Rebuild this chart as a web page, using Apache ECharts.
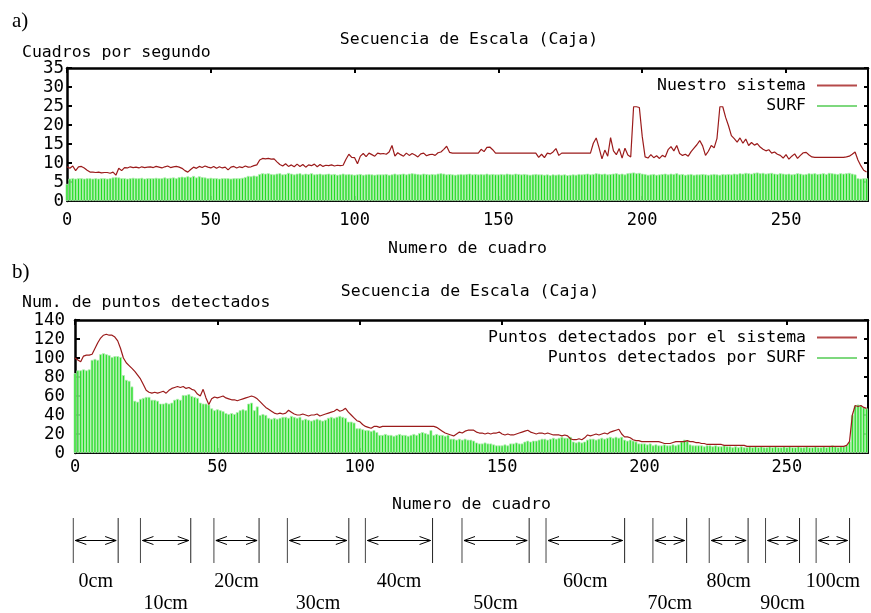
<!DOCTYPE html>
<html>
<head>
<meta charset="utf-8">
<script src="https://cdn.jsdelivr.net/npm/echarts@6/dist/echarts.min.js"></script>
<style>
html,body{margin:0;padding:0;background:#fff;}
#chart{width:871px;height:613px;}
</style>
</head>
<body>
<div id="chart"></div>
<script>
// ---------- DATA ----------
const chartTitle = 'Secuencia de Escala (Caja)';
const xAxisTitle = 'Numero de cuadro';
const topYTitle = 'Cuadros por segundo';
const bottomYTitle = 'Num. de puntos detectados';
const topSeriesNames = ['Nuestro sistema', 'SURF'];
const bottomSeriesNames = ['Puntos detectados por el sistema', 'Puntos detectados por SURF'];

// a) frames per second, frames 0..278
const fpsSistema = [
 9.0, 8.6, 9.2, 8.0, 9.0, 9.1, 8.7, 8.1, 7.6, 7.6,
 7.5, 7.6, 7.4, 7.5, 7.5, 7.3, 7.6, 6.8, 8.6, 8.0,
 8.8, 8.7, 9.0, 8.8, 8.9, 8.7, 9.0, 8.8, 8.9, 9.0,
 8.8, 9.1, 8.9, 8.7, 9.0, 9.2, 8.8, 9.0, 9.1, 8.9,
 8.6, 8.0, 7.6, 8.3, 8.9, 8.6, 9.1, 8.8, 9.2, 8.9,
 8.7, 9.1, 8.6, 9.0, 8.7, 8.9, 8.2, 8.9, 9.1, 8.7,
 9.0, 8.8, 9.2, 8.9, 9.0, 9.3, 9.5, 10.8, 11.2, 11.1,
 11.2, 11.0, 11.1, 10.3, 9.6, 9.2, 9.8, 9.1, 9.5, 9.0,
 9.7, 9.1, 9.6, 8.9, 9.5, 9.3, 9.7, 9.0, 9.6, 9.1,
 9.4, 9.3, 9.5, 9.2, 9.4, 9.3, 9.4, 11.0, 12.3, 11.5,
 11.4, 9.8, 11.8, 12.5, 11.7, 12.6, 12.2, 11.8, 12.6, 12.4,
 12.5, 12.3, 12.9, 14.6, 11.8, 12.7, 12.2, 11.8, 12.6, 12.0,
 12.5, 12.1, 11.6, 12.4, 12.6, 11.9, 12.2, 12.3, 12.0, 12.7,
 12.9, 13.6, 14.4, 12.8, 12.6, 12.6, 12.6, 12.6, 12.6, 12.6,
 12.6, 12.6, 12.6, 12.6, 13.6, 13.0, 14.1, 14.2, 13.5, 12.6,
 12.6, 12.6, 12.6, 12.6, 12.6, 12.6, 12.6, 12.6, 12.6, 12.6,
 12.6, 12.6, 12.6, 12.6, 11.5, 12.3, 11.4, 12.6, 12.4, 12.9,
 13.8, 12.0, 12.6, 12.6, 12.6, 12.6, 12.6, 12.6, 12.6, 12.6,
 12.6, 12.6, 12.6, 15.2, 16.6, 14.0, 11.1, 13.4, 11.8, 16.7,
 13.2, 12.2, 13.8, 11.3, 13.9, 12.1, 11.6, 24.8, 24.8, 24.6,
 17.0, 11.6, 11.3, 12.2, 11.4, 11.9, 11.2, 12.0, 11.6, 13.5,
 14.3, 13.2, 14.6, 12.5, 12.0, 12.3, 11.8, 13.0, 13.9, 14.8,
 15.9, 14.5, 12.0, 13.1, 14.6, 14.0, 16.5, 24.8, 24.8, 22.0,
 19.8, 17.2, 16.4, 15.5, 16.6, 15.2, 16.3, 14.6, 15.4, 14.7,
 15.1, 14.2, 13.6, 13.2, 13.5, 12.6, 12.9, 12.3, 12.0, 11.3,
 12.2, 11.0, 11.8, 12.4, 11.2, 12.0, 12.7, 12.8, 12.1, 11.6,
 11.5, 11.5, 11.5, 11.5, 11.5, 11.5, 11.5, 11.5, 11.5, 11.5,
 11.5, 11.6, 11.8, 12.3, 12.9, 10.8, 9.3, 8.1, 7.6
];
const fpsSurf = [
 4.5, 5.9, 6.0, 5.9, 6.0, 6.0, 5.9, 6.0, 6.0, 5.9,
 6.0, 5.9, 6.0, 6.0, 5.9, 6.0, 6.2, 6.3, 6.2, 6.0,
 6.0, 5.9, 6.0, 6.1, 6.0, 6.0, 6.1, 5.9, 6.0, 6.0,
 6.0, 6.1, 6.0, 6.0, 6.2, 6.0, 6.1, 6.2, 6.0, 6.3,
 6.4, 6.3, 6.5, 6.3, 6.6, 6.2, 6.5, 6.3, 6.2, 6.0,
 6.1, 6.0, 6.0, 5.9, 6.0, 6.0, 6.0, 5.9, 6.0, 6.0,
 6.0, 6.1, 6.3, 6.6, 6.5, 6.7, 6.6, 7.1, 7.3, 7.2,
 7.3, 7.1, 7.0, 7.2, 7.3, 7.0, 7.1, 7.4, 7.2, 7.0,
 7.2, 7.3, 7.0, 7.2, 7.1, 7.3, 7.0, 7.1, 7.2, 7.0,
 7.1, 7.2, 7.0, 7.1, 6.9, 7.0, 7.2, 7.0, 7.1, 7.0,
 6.9, 7.0, 7.1, 6.9, 7.0, 7.1, 7.0, 6.9, 7.0, 7.0,
 7.0, 7.1, 6.9, 7.0, 7.2, 7.0, 7.1, 7.2, 7.0, 7.2,
 7.3, 7.2, 7.1, 7.0, 7.2, 7.1, 7.0, 7.1, 7.0, 7.2,
 7.3, 7.2, 7.0, 7.1, 7.0, 6.9, 7.0, 7.1, 7.0, 7.1,
 7.2, 7.0, 7.1, 7.0, 7.1, 7.0, 7.2, 7.0, 7.1, 7.0,
 7.0, 7.1, 7.0, 7.2, 7.1, 7.0, 7.2, 7.1, 7.0, 7.1,
 7.0, 6.9, 7.0, 7.1, 7.0, 7.0, 6.9, 7.0, 6.8, 7.0,
 6.9, 7.0, 6.9, 7.0, 6.8, 6.9, 7.0, 6.9, 7.1, 7.0,
 7.1, 7.2, 7.0, 7.1, 7.3, 7.2, 7.1, 7.2, 7.0, 7.1,
 7.2, 7.3, 7.1, 7.2, 7.0, 7.3, 7.4, 7.5, 7.3, 7.4,
 7.2, 7.1, 6.9, 7.0, 7.1, 6.9, 7.0, 7.1, 7.2, 7.0,
 7.2, 7.1, 7.3, 7.0, 7.1, 6.9, 7.0, 7.1, 6.9, 7.0,
 7.0, 7.1, 7.0, 6.9, 7.0, 7.1, 7.0, 6.9, 7.1, 7.0,
 7.1, 7.0, 7.2, 7.1, 7.3, 7.2, 7.4, 7.3, 7.2, 7.4,
 7.5, 7.3, 7.4, 7.2, 7.3, 7.4, 7.2, 7.1, 7.3, 7.2,
 7.1, 7.2, 7.0, 7.1, 7.3, 7.2, 7.0, 7.1, 7.3, 7.2,
 7.3, 7.1, 7.2, 7.3, 7.1, 7.4, 7.3, 7.2, 7.1, 7.3,
 7.2, 7.3, 7.4, 7.2, 7.0, 6.0, 5.9, 6.0, 6.0
];

// b) detected points, frames 0..278
const ptsSistema = [
 100, 98, 96, 102, 103, 103, 104, 110, 116, 121,
 124, 125, 124, 124, 122, 118, 110, 100, 95, 92,
 89, 86, 82, 78, 72, 66, 64, 63, 64, 63,
 64, 65, 63, 66, 68, 69, 70, 69, 70, 68,
 69, 67, 66, 62, 60, 67, 58, 51, 57, 59,
 58, 59, 60, 58, 57, 56, 56, 55, 56, 57,
 58, 59, 60, 59, 57, 54, 51, 48, 46, 44,
 42, 41, 42, 41, 42, 45, 43, 41, 40, 40,
 41, 40, 39, 40, 40, 41, 39, 40, 41, 42,
 43, 44, 46, 44, 45, 47, 43, 40, 37, 34,
 33, 30, 28, 27, 26, 28, 28, 27, 28, 28,
 28, 28, 28, 28, 28, 28, 28, 28, 28, 28,
 28, 28, 28, 28, 28, 28, 28, 27, 25, 23,
 21, 20, 19, 18, 20, 22, 21, 23, 24, 24,
 24, 22, 21, 21, 20, 21, 20, 21, 21, 22,
 20, 19, 20, 19, 19, 20, 21, 22, 23, 24,
 22, 21, 20, 21, 21, 20, 21, 20, 19, 19,
 19, 18, 19, 18, 15, 14, 14, 15, 14, 16,
 19, 18, 19, 20, 19, 20, 21, 20, 22, 23,
 24, 25, 20, 17, 17, 16, 14, 13, 13, 12,
 12, 12, 12, 12, 12, 12, 11, 10, 10, 10,
 11, 12, 12, 12, 12, 13, 12, 12, 11, 11,
 10, 10, 9, 9, 9, 9, 9, 9, 8, 8,
 8, 8, 8, 8, 8, 8, 7, 7, 7, 7,
 7, 7, 7, 7, 7, 7, 7, 7, 7, 7,
 7, 7, 7, 7, 7, 7, 7, 7, 7, 7,
 7, 7, 7, 7, 7, 7, 7, 7, 7, 7,
 7, 8, 12, 40, 50, 49, 50, 48, 47
];
const ptsSurf = [
 84, 87, 87, 88, 87, 88, 98, 99, 98, 104,
 105, 104, 103, 101, 102, 102, 101, 82, 77, 76,
 70, 55, 54, 57, 58, 59, 59, 56, 56, 55,
 52, 52, 53, 52, 53, 56, 57, 56, 61, 61,
 62, 60, 59, 58, 53, 52, 52, 51, 47, 45,
 46, 45, 44, 42, 41, 42, 41, 43, 45, 46,
 45, 52, 53, 45, 49, 40, 41, 40, 37, 36,
 37, 36, 37, 38, 38, 37, 39, 38, 37, 38,
 35, 36, 35, 34, 35, 36, 35, 34, 35, 37,
 38, 37, 38, 39, 38, 37, 33, 33, 32, 26,
 26, 25, 24, 24, 23, 24, 22, 19, 19, 20,
 19, 19, 18, 19, 20, 19, 19, 18, 19, 20,
 19, 21, 22, 21, 20, 24, 19, 20, 19, 19,
 18, 19, 15, 15, 14, 15, 14, 15, 14, 14,
 13, 11, 10, 10, 11, 10, 10, 9, 8, 8,
 8, 9, 8, 10, 10, 11, 10, 10, 12, 13,
 12, 13, 13, 14, 15, 15, 14, 15, 16, 15,
 16, 17, 16, 16, 17, 12, 11, 12, 11, 12,
 14, 15, 15, 14, 15, 16, 15, 16, 17, 16,
 17, 16, 17, 14, 13, 14, 13, 12, 10, 10,
 10, 9, 10, 8, 9, 8, 8, 9, 8, 8,
 9, 8, 9, 12, 14, 13, 9, 8, 8, 8,
 8, 7, 8, 8, 7, 8, 7, 7, 8, 7,
 7, 6, 7, 6, 7, 6, 6, 7, 6, 7,
 6, 7, 6, 6, 7, 6, 7, 6, 6, 7,
 6, 7, 6, 6, 7, 6, 6, 7, 6, 6,
 7, 6, 6, 7, 6, 7, 8, 7, 6, 7,
 7, 8, 12, 40, 50, 51, 50, 48, 47
];

// distance segments below b): frame ranges
const distLabels = ['0cm','10cm','20cm','30cm','40cm','50cm','60cm','70cm','80cm','90cm','100cm'];
const distStart  = [-0.6, 22.9, 48.6, 74.3, 101.6, 135.4, 164.8, 202.2, 221.9, 241.6, 259.3];
const distEnd    = [15.1, 40.5, 64.4, 95.8, 125.1, 158.9, 192.3, 214.0, 235.5, 253.5, 271.0];

// axis ticks
const xMin = 0, xMax = 278.5, xStep = 50;
const topYMax = 35, topYStep = 5;
const botYMax = 140, botYStep = 20;

// ---------- STYLE ----------
const MONO = '"DejaVu Sans Mono", monospace';
const SERIF = '"Liberation Serif", "Times New Roman", serif';
const RED = '#9b1b1b';
const GREEN_FILL = '#22dd22';
const GREEN_EDGE = '#b2eeb2';

const toPairs = arr => arr.map((v, i) => [i, v]);
const xFmt = v => (v % xStep === 0 ? String(v) : '');

function xAxes(grid, labelMargin, nameGap) {
  return [
    {
      gridIndex: grid, type: 'value', min: xMin, max: xMax, interval: xStep, position: 'bottom',
      name: xAxisTitle, nameLocation: 'middle', nameGap: nameGap,
      nameTextStyle: { fontFamily: MONO, fontSize: 16.5, color: '#000' },
      axisLine: { onZero: false, lineStyle: { color: '#000', width: 2 } },
      axisTick: { inside: true, length: 5, lineStyle: { color: '#000', width: 2 } },
      axisLabel: { formatter: xFmt, margin: labelMargin, fontFamily: MONO, fontSize: 17, color: '#000' },
      splitLine: { show: false }
    },
    {
      gridIndex: grid, type: 'value', min: xMin, max: xMax, interval: xStep, position: 'top',
      axisLine: { onZero: false, lineStyle: { color: '#000', width: 2.5 } },
      axisTick: { inside: true, length: 5, lineStyle: { color: '#000', width: 2 } },
      axisLabel: { show: false }, splitLine: { show: false }
    }
  ];
}
function yAxes(grid, max, step, labelMargin) {
  return [
    {
      gridIndex: grid, type: 'value', min: 0, max: max, interval: step, position: 'left',
      axisLine: { show: true, onZero: false, lineStyle: { color: '#000', width: 2.5 } },
      axisTick: { show: true, inside: true, length: 5, lineStyle: { color: '#000', width: 2 } },
      axisLabel: { margin: labelMargin, fontFamily: MONO, fontSize: 17.5, color: '#000' },
      splitLine: { show: false }
    },
    {
      gridIndex: grid, type: 'value', min: 0, max: max, interval: step, position: 'right',
      axisLine: { show: true, onZero: false, lineStyle: { color: '#000', width: 2 } },
      axisTick: { show: true, inside: true, length: 4, lineStyle: { color: '#000', width: 2 } },
      axisLabel: { show: false }, splitLine: { show: false }
    }
  ];
}
function legendFor(names, top) {
  return {
    orient: 'vertical', align: 'right', right: 14, top: top, padding: 0,
    itemGap: 3.5, itemWidth: 40, itemHeight: 2, icon: 'rect',
    textStyle: { fontFamily: MONO, fontSize: 16.5, color: '#000', padding: [0, 6, 0, 0] },
    data: [
      { name: names[0], itemStyle: { color: '#b54a4a', borderWidth: 0 } },
      { name: names[1], itemStyle: { color: '#7ed87e', borderWidth: 0 } }
    ]
  };
}
function textEl(text, x, y, font, align) {
  return { type: 'text', x: x, y: y, style: { text: text, font: font, fill: '#000', align: align, verticalAlign: 'middle' } };
}

const chart = echarts.init(document.getElementById('chart'), null, { renderer: 'canvas' });

const option = {
  animation: false,
  backgroundColor: '#fff',
  grid: [
    { left: 67, top: 68, width: 805, height: 133 },
    { left: 75, top: 320, width: 797, height: 133 },
    { left: 75, top: 518, width: 797, height: 45 }
  ],
  xAxis: [
    ...xAxes(0, 11, 39),
    ...xAxes(1, 6, 43),
    { gridIndex: 2, type: 'value', min: xMin, max: xMax, show: false }
  ],
  yAxis: [
    ...yAxes(0, topYMax, topYStep, 3),
    ...yAxes(1, botYMax, botYStep, 10),
    { gridIndex: 2, type: 'value', min: 0, max: 1, show: false }
  ],
  legend: [ legendFor(topSeriesNames, 77), legendFor(bottomSeriesNames, 329) ],
  graphic: [
    textEl('a)', 12, 21, '21px ' + SERIF, 'left'),
    textEl(topYTitle, 22, 53, '16.5px ' + MONO, 'left'),
    textEl(chartTitle, 469, 40, '16.5px ' + MONO, 'center'),
    textEl('b)', 12, 272, '21px ' + SERIF, 'left'),
    textEl(bottomYTitle, 22, 303, '16.5px ' + MONO, 'left'),
    textEl(chartTitle, 470, 292, '16.5px ' + MONO, 'center')
  ],
  series: [
    {
      name: topSeriesNames[1], type: 'bar', xAxisIndex: 0, yAxisIndex: 0,
      data: toPairs(fpsSurf), barWidth: 2.9, z: 2,
      itemStyle: { color: GREEN_FILL, borderColor: GREEN_EDGE, borderWidth: 0.8 }
    },
    {
      name: topSeriesNames[0], type: 'line', xAxisIndex: 0, yAxisIndex: 0,
      data: toPairs(fpsSistema), showSymbol: false, z: 3,
      lineStyle: { color: RED, width: 1.2 }, itemStyle: { color: RED }
    },
    {
      name: bottomSeriesNames[1], type: 'bar', xAxisIndex: 2, yAxisIndex: 2,
      data: toPairs(ptsSurf), barWidth: 2.86, z: 2,
      itemStyle: { color: GREEN_FILL, borderColor: GREEN_EDGE, borderWidth: 0.8 }
    },
    {
      name: bottomSeriesNames[0], type: 'line', xAxisIndex: 2, yAxisIndex: 2,
      data: toPairs(ptsSistema), showSymbol: false, z: 3,
      lineStyle: { color: RED, width: 1.2 }, itemStyle: { color: RED }
    },
    {
      type: 'custom', xAxisIndex: 4, yAxisIndex: 4, silent: true,
      data: distStart.map((s, i) => [s, distEnd[i], i % 2]),
      renderItem: function (params, api) {
        const s = api.value(0), e = api.value(1), row = api.value(2);
        const a = api.coord([s, 1]), b = api.coord([s, 0]), c = api.coord([e, 1]);
        const m = api.coord([s, 0.5]);
        const x0 = a[0], x1 = c[0], yT = a[1], yB = b[1], yM = m[1];
        const st = { stroke: '#000', lineWidth: 1, fill: null };
        const hl = 11, hh = 4;
        return {
          type: 'group',
          children: [
            { type: 'line', shape: { x1: x0, y1: yT, x2: x0, y2: yB }, style: { stroke: '#444', lineWidth: 1 } },
            { type: 'line', shape: { x1: x1, y1: yT, x2: x1, y2: yB }, style: { stroke: '#222', lineWidth: 1 } },
            { type: 'line', shape: { x1: x0 + 2, y1: yM, x2: x1 - 2, y2: yM }, style: st },
            { type: 'polyline', shape: { points: [[x0 + 2 + hl, yM - hh], [x0 + 2, yM], [x0 + 2 + hl, yM + hh]] }, style: st },
            { type: 'polyline', shape: { points: [[x1 - 2 - hl, yM - hh], [x1 - 2, yM], [x1 - 2 - hl, yM + hh]] }, style: st },
            { type: 'text', x: (x0 + x1) / 2, y: yB + (row === 0 ? 19 : 41),
              style: { text: distLabels[params.dataIndex], font: '20px ' + SERIF, fill: '#000', align: 'center', verticalAlign: 'middle' } }
          ]
        };
      }
    }
  ]
};
chart.setOption(option);
</script>
</body>
</html>
